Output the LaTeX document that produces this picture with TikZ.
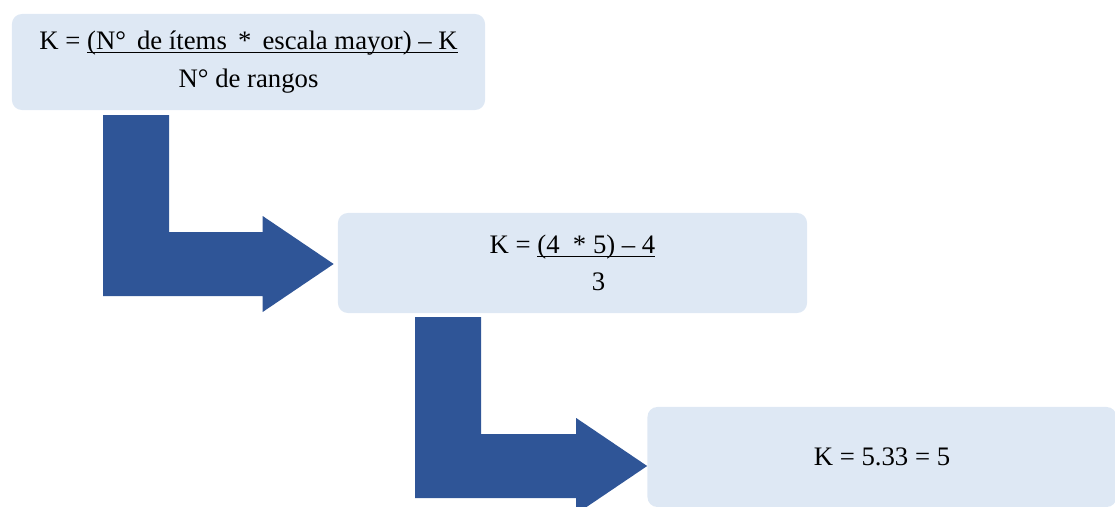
\documentclass[tikz,border=0pt]{standalone}
\usepackage{fontspec}
\setmainfont{Liberation Serif}
\usepackage{xcolor}
\usepackage{tikz}
\usetikzlibrary{positioning}

\definecolor{boxblue}{HTML}{DEE8F4}
\definecolor{arrowblue}{HTML}{2F5597}

% underline drawn just below the baseline
\newcommand{\ulin}[1]{\setbox0\hbox{#1}\rlap{\rule[-2.2pt]{\wd0}{0.7pt}}\box0}

\begin{document}
\begin{tikzpicture}[
  x=0.025cm, y=-0.025cm,
  box/.style={rounded corners=0.25cm,fill=boxblue,minimum width=11.725cm,minimum height=2.5cm,
    inner sep=0pt,align=center,font=\fontsize{19}{26.5}\selectfont},
  bent/.style={fill=arrowblue}
]
  \useasboundingbox (0,0) rectangle (1115,506);
  \clip (0,0) rectangle (1115,506);

  \node[box,minimum width=11.825cm,minimum height=2.4cm] (formula) at (248.5,62)
    {K = \ulin{(N°\, de ítems\, *\, escala mayor) – K}\\N° de rangos};
  \node[box] (subst) at (572.5,263)
    {K = \ulin{(4 \ * 5) – 4}\\\phantom{K = }\,3};
  \node[box] (result) at (882,457) {K = 5.33 = 5};

  % bent arrows: stem top-left corner, then tip
  \coordinate (a1) at (103,115);
  \coordinate (t1) at ([shift={(-4,1)}]subst.west);
  \coordinate (a2) at (415,317);
  \coordinate (t2) at ([shift={(0,9)}]result.west);

  \fill[bent] (a1) -- ++(66,0) |- ([shift={(-71,-32)}]t1) -- ++(0,-16) -- (t1)
    -- ++(-71,48) -- ++(0,-16) -| (a1) -- cycle;
  \fill[bent] (a2) -- ++(66,0) |- ([shift={(-71,-32)}]t2) -- ++(0,-16) -- (t2)
    -- ++(-71,48) -- ++(0,-16) -| (a2) -- cycle;
\end{tikzpicture}
\end{document}
